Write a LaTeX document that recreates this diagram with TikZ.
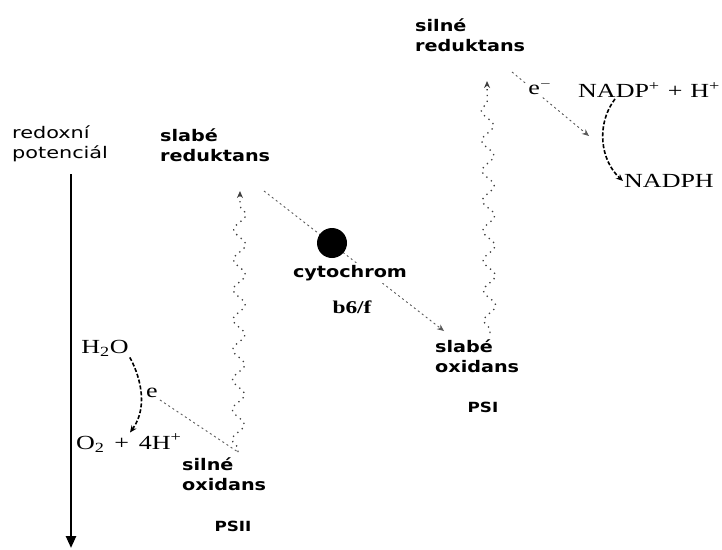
\documentclass[tikz,border=0pt]{standalone}
\usepackage{fontspec}
\setmainfont{Liberation Serif}
\newfontfamily\sanslab[FakeStretch=1.2]{DejaVu Sans}
\newfontfamily\sanslight[FakeStretch=1.3]{DejaVu Sans}
\newfontfamily\chemfont[FakeStretch=1.3]{Liberation Serif}
\usetikzlibrary{decorations.pathmorphing,arrows.meta}
\tikzset{
  lbl/.style={font=\sanslab\bfseries\fontsize{16}{20}\selectfont, align=left, inner sep=0pt},
  lbllight/.style={font=\sanslight\fontsize{16}{20}\selectfont, align=left, inner sep=0pt},
  pslbl/.style={font=\sanslab\bfseries\fontsize{14}{16}\selectfont, inner sep=0pt},
  chem/.style={font=\chemfont\fontsize{20}{24}\selectfont, inner sep=1pt},
  elink/.style={draw=black!65, line width=0.9pt, dash pattern=on 2pt off 3pt},
  wavy/.style={draw=black!75, line width=1.3pt, dash pattern=on 1.3pt off 4.5pt,
    decorate, decoration={snake, amplitude=6pt, segment length=30pt, pre length=3pt, post length=8pt}},
  curvarr/.style={draw=black, line width=1.6pt, dash pattern=on 4pt off 2pt},
  tip/.style={-{Stealth[length=7pt,width=6pt]}},
}
\begin{document}
\begin{tikzpicture}[x=1pt,y=-1pt]
\useasboundingbox (0,0) rectangle (722,549);

% axis
\node[lbllight, anchor=west] (axlab) at (12,144) {redoxní\\potenciál};
\coordinate (axtop) at (71,174);
\coordinate (axbot) at (71,548);
\draw[line width=2.5pt, -{Triangle[length=12pt,width=10pt]}] (axtop) -- (axbot);

% labels
\node[lbl, anchor=west] (wr) at (160,145) {slabé\\reduktans};
\node[lbl, anchor=west] (sr) at (415,35) {silné\\reduktans};
\node[lbl, anchor=west] (wo) at (435,356) {slabé\\oxidans};
\node[lbl, anchor=west] (so) at (182,474) {silné\\oxidans};
\node[pslbl] (psii) at (233,526) {PSII};
\node[pslbl] (psi) at (483,407) {PSI};

% PSII and PSI excitation
\coordinate (psIIbot) at (238,452);
\coordinate (psIItop) at (240,191);
\draw[wavy, tip] (psIIbot) -- (psIItop);
\coordinate (psIbot) at (490,333);
\coordinate (psItop) at (487,81);
\draw[wavy, tip] (psIbot) -- (psItop);

% chain through cytochrome
\coordinate (cstart) at (264,191);
\coordinate (cend) at (444,331);
\draw[elink, tip] (cstart) -- (cend);
\node[circle, fill=black, minimum size=30pt, inner sep=0pt] (dot) at (332,243) {};
\node[lbl, fill=white, inner sep=2pt] (cyt) at (350,273) {cytochrom};
\node[font=\chemfont\bfseries\fontsize{18}{20}\selectfont, inner sep=1pt] (b6f) at (352,307) {b6/f};

% water splitting
\node[chem] (h2o) at (105,348) {H\textsubscript{2}O};
\node[chem, anchor=west] (o2) at (75,443) {O\textsubscript{2} \,+\, 4H\textsuperscript{+}};
\node[chem, inner sep=2pt] (e1) at (152,393) {e};
\draw[curvarr, tip] (h2o.south east) .. controls (138,372) and (150,405) .. (o2.north -| 130,0);
\draw[elink] (e1.south east) -- (psIIbot);

% NADP reduction
\node[chem, anchor=west] (nadp) at (577,90) {NADP\textsuperscript{+}\hspace{8pt}+\hspace{8pt}H\textsuperscript{+}};
\node[chem, anchor=west] (nadph) at (623,181) {NADPH};
\coordinate (nstart) at (512,72);
\coordinate (nend) at (589,136);
\draw[elink, tip] (nstart) -- (nend);
\node[chem, fill=white, inner sep=1pt] (e2) at (540,87) {e$^{-}$};
\draw[curvarr, tip] (nadp.south -| 615,0) .. controls (596,124) and (600,160) .. (nadph.west);
\end{tikzpicture}
\end{document}
